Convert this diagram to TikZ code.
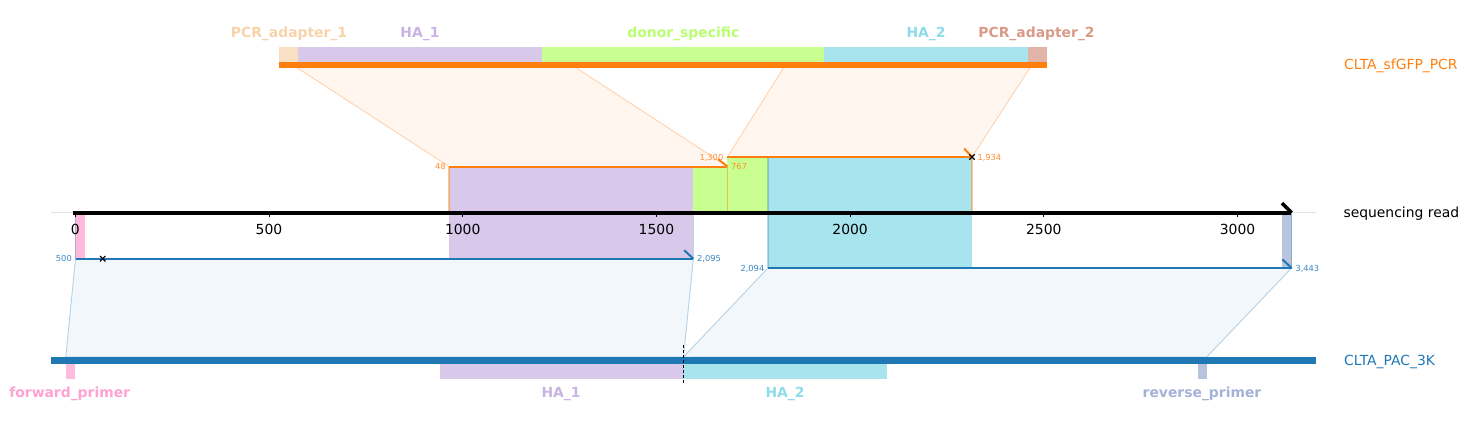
\documentclass[tikz,border=0pt]{standalone}
\usepackage{fontspec}
\setmainfont{DejaVu Sans}
\definecolor{cO}{HTML}{FF7F0E}
\definecolor{cB}{HTML}{1F77B4}
\definecolor{cOt}{HTML}{FF8E2E}
\definecolor{cBt}{HTML}{3A87C2}
\definecolor{peachbar}{HTML}{F9DFC3}
\definecolor{peachtxt}{HTML}{F8D2A8}
\definecolor{lavbar}{HTML}{D8C8EA}
\definecolor{lavtxt}{HTML}{C8B3E2}
\definecolor{grnbar}{HTML}{C8FF90}
\definecolor{grntxt}{HTML}{B8FF70}
\definecolor{cyanbar}{HTML}{A8E4EE}
\definecolor{cyantxt}{HTML}{8EDCEA}
\definecolor{rosebar}{HTML}{E0B5A8}
\definecolor{rosetxt}{HTML}{D99A88}
\definecolor{pinkbar}{HTML}{FFBBDE}
\definecolor{pinktxt}{HTML}{FFA2D2}
\definecolor{slatebar}{HTML}{B8C4DE}
\definecolor{slatetxt}{HTML}{A3B2D6}
\definecolor{ofill}{HTML}{FFF6EF}
\definecolor{oedge}{HTML}{FFD3AE}
\definecolor{bfill}{HTML}{F1F7FB}
\definecolor{bedge}{HTML}{B4D2E8}
\definecolor{spine}{HTML}{E2E2E2}
\begin{document}
\begin{tikzpicture}[x=1pt,y=-1pt,
  lbl/.style={font=\fontsize{13.9}{16}\selectfont\bfseries, anchor=base, inner sep=0pt},
  small/.style={font=\fontsize{8.3}{10}\selectfont, inner sep=0pt},
  ticklbl/.style={font=\fontsize{13.9}{16}\selectfont, anchor=base, inner sep=0pt},
  side/.style={font=\fontsize{13.9}{16}\selectfont, anchor=base west, inner sep=0pt},
  opoly/.style={fill=ofill, draw=oedge, line width=0.9pt, line join=round},
  bpoly/.style={fill=bfill, draw=bedge, line width=0.9pt, line join=round},
  oline/.style={draw=cO, line width=2pt},
  bline/.style={draw=cB, line width=2pt},
  overt/.style={draw=cO, draw opacity=0.45, line width=1.4pt},
  bvert/.style={draw=cB, draw opacity=0.3, line width=1.2pt},
  xmark/.style={draw=black, line width=1.1pt},
]
\useasboundingbox (0,0) rectangle (1469,426);

% axis spine
\draw[spine, line width=1pt] (51,212.5) -- (1316,212.5);

% upper alignment polygons
\coordinate (uA1) at (297,67.7);  \coordinate (uA2) at (576,67.7);
\coordinate (uA3) at (727.4,166.5); \coordinate (uA4) at (449,166.5);
\coordinate (uB1) at (783.6,67.7); \coordinate (uB2) at (1030,67.7);
\coordinate (uB3) at (972,157);   \coordinate (uB4) at (727.4,157);
\path[opoly] (uA1) -- (uA2) -- (uA3) -- (uA4) -- cycle;
\path[opoly] (uB1) -- (uB2) -- (uB3) -- (uB4) -- cycle;

% lower alignment polygons
\coordinate (lA1) at (75.5,258.7); \coordinate (lA2) at (693.3,258.7);
\coordinate (lA3) at (683.5,357);  \coordinate (lA4) at (65.8,357);
\coordinate (lB1) at (768,268);    \coordinate (lB2) at (1291.6,268);
\coordinate (lB3) at (1206.7,357); \coordinate (lB4) at (683.5,357);
\path[bpoly] (lA1) -- (lA2) -- (lA3) -- (lA4) -- cycle;
\path[bpoly] (lB1) -- (lB2) -- (lB3) -- (lB4) -- cycle;

% feature shading on the read
\fill[lavbar] (449,166.5) rectangle (693.3,258.7);
\fill[grnbar] (693.3,166.5) rectangle (727.4,212.5);
\fill[grnbar] (727.4,157) rectangle (768,212.5);
\fill[cyanbar] (768,157) rectangle (972,268);
\fill[pinkbar] (75.3,212.5) rectangle (85,258.7);
\fill[slatebar] (1282.3,212.5) rectangle (1291.6,268);

% projection boundary lines
\draw[overt] (449,166.5) -- (449,212.5);
\draw[overt] (727.4,166.5) -- (727.4,212.5);
\draw[overt] (972,157) -- (972,212.5);
\draw[bvert] (75.5,212.5) -- (75.5,258.7);
\draw[bvert] (693.3,212.5) -- (693.3,258.7);
\draw[bvert] (768,157) -- (768,268);
\draw[bvert] (1291.6,212.5) -- (1291.6,268);

% ticks
\foreach \v in {0,500,1000,1500,2000,2500,3000} {
  \draw[black, line width=0.8pt] ({75.3+0.3874*\v},212) -- ({75.3+0.3874*\v},216.6);
  \node[ticklbl] (tick\v) at ({75.3+0.3874*\v},234) {\v};
}

% sequencing read
\draw[black, line width=4pt] (73.3,212.5) -- (1291.4,212.5);
\draw[black, line width=3.6pt] (1282,203.2) -- (1291.6,212.8);

% orange alignment lines
\draw[oline] (449,166.5) -- (727.4,166.5);
\draw[oline] (718.2,159.2) -- (727.4,166.5);
\draw[oline] (727.4,157) -- (972,157);
\draw[oline] (964.2,148.5) -- (972,157);
\draw[xmark] (969.3,154.3) -- (974.7,159.7) (969.3,159.7) -- (974.7,154.3);

% blue alignment lines
\draw[bline] (75.5,258.7) -- (693.3,258.7);
\draw[bline] (684.2,250.2) -- (693.3,258.7);
\draw[xmark] (100,256) -- (105.4,261.4) (100,261.4) -- (105.4,256);
\draw[bline] (768,268) -- (1291.6,268);
\draw[bline] (1282.4,259.4) -- (1291.6,268);

% small coordinate labels
\node[small, text=cOt, anchor=base east] (n48) at (446,169) {48};
\node[small, text=cOt, anchor=base west] (n767) at (731,169) {767};
\node[small, text=cOt, anchor=base east] (n1300) at (723.5,160) {1,300};
\node[small, text=cOt, anchor=base west] (n1934) at (977.3,160) {1,934};
\node[small, text=cBt, anchor=base east] (n500) at (72,261.7) {500};
\node[small, text=cBt, anchor=base west] (n2095) at (697,261.7) {2,095};
\node[small, text=cBt, anchor=base east] (n2094) at (764.5,271) {2,094};
\node[small, text=cBt, anchor=base west] (n3443) at (1295.3,271) {3,443};

% top construct CLTA_sfGFP_PCR
\fill[peachbar] (279,47.3) rectangle (297.5,61.5);
\fill[lavbar] (297.5,47.3) rectangle (541.8,61.5);
\fill[grnbar] (541.8,47.3) rectangle (823.6,61.5);
\fill[cyanbar] (823.6,47.3) rectangle (1028,61.5);
\fill[rosebar] (1028,47.3) rectangle (1047,61.5);
\fill[cO] (279,61.5) rectangle (1047,67.7);

% bottom construct CLTA_PAC_3K
\fill[cB] (51,357) rectangle (1316,364);
\fill[pinkbar] (66,364) rectangle (75.2,378.7);
\fill[lavbar] (440,364) rectangle (683.3,378.7);
\fill[cyanbar] (683.3,364) rectangle (887,378.7);
\fill[slatebar] (1197.7,364) rectangle (1207.3,378.7);
\draw[black, line width=1.1pt, dash pattern=on 3pt off 2pt] (683.3,345.3) -- (683.3,384.3);

% feature labels
\node[lbl, text=peachtxt] (lpa1) at (289,37) {PCR\_adapter\_1};
\node[lbl, text=lavtxt] (lha1t) at (420,37) {HA\_1};
\node[lbl, text=grntxt] (ldon) at (683.4,37) {donor\_specific};
\node[lbl, text=cyantxt] (lha2t) at (926,37) {HA\_2};
\node[lbl, text=rosetxt] (lpa2) at (1036.5,37) {PCR\_adapter\_2};
\node[lbl, text=pinktxt] (lfwd) at (69.7,397) {forward\_primer};
\node[lbl, text=lavtxt] (lha1b) at (561,397) {HA\_1};
\node[lbl, text=cyantxt] (lha2b) at (785,397) {HA\_2};
\node[lbl, text=slatetxt] (lrev) at (1202,397) {reverse\_primer};

% track names
\node[side, text=cO] (nsf) at (1344,69) {CLTA\_sfGFP\_PCR};
\node[side, text=black] (nread) at (1343.3,217) {sequencing read};
\node[side, text=cB] (npac) at (1344,365) {CLTA\_PAC\_3K};
\end{tikzpicture}
\end{document}
